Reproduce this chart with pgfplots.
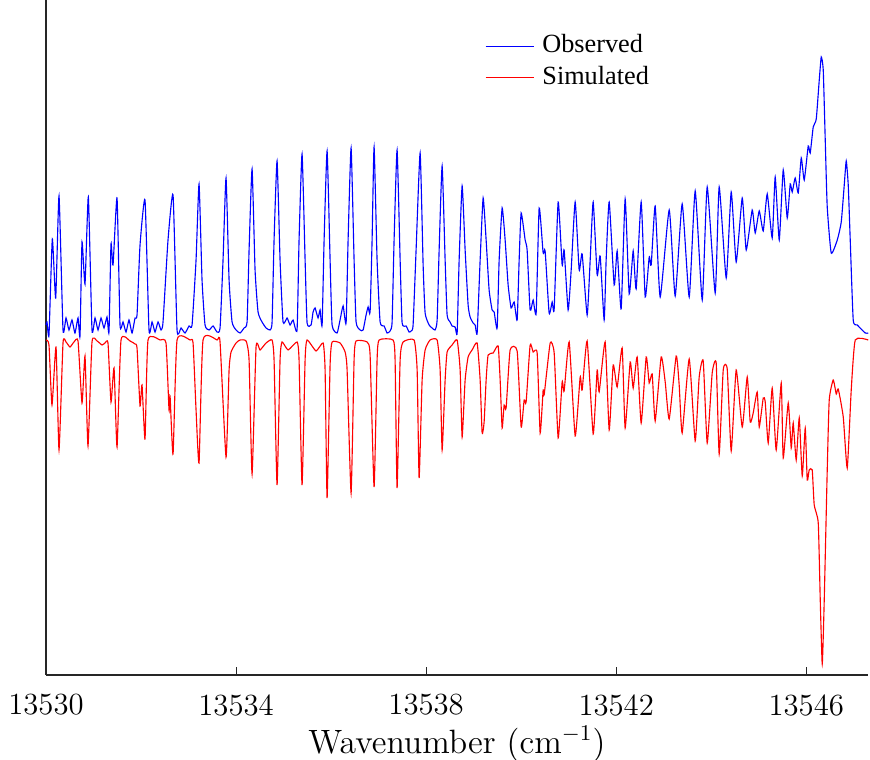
\documentclass[border=0pt]{standalone}
\usepackage{fontspec}
\usepackage{pgfplots}
\pgfplotsset{compat=1.18}
\newfontfamily\legfont{Liberation Serif}

\begin{document}
\begin{tikzpicture}
    % picture frame, 870 x 760 px at 0.4pt per px
    \useasboundingbox (-18.4pt,-34pt) rectangle (329.6pt,270pt);
    \begin{axis}[
        at={(0pt,0pt)},
        anchor=south west,
        scale only axis,
        width=328.8pt,
        height=270pt,
        xmin=13530, xmax=13547.3,
        ymin=-340, ymax=335,
        axis x line=bottom,
        axis y line=left,
        axis line style={-, black!85, line width=0.5pt},
        xtick={13530,13534,13538,13542,13546},
        xticklabels={13530,13534,13538,13542,13546},
        scaled x ticks=false,
        ytick=\empty,
        tick align=inside,
        major tick length=3.2pt,
        tick style={black!85, line width=0.4pt},
        /pgf/number format/assume math mode=true,
        xticklabel style={font=\fontsize{12.3}{14}\selectfont, yshift=-4.2pt},
        xlabel={Wavenumber (cm$^{-1}$)},
        xlabel style={font=\fontsize{13.5}{15}\selectfont, yshift=2.6pt},
        legend style={
            at={(0.5335,0.9556)}, anchor=north west,
            draw=none, fill=none,
            font=\legfont\fontsize{10.5}{12}\selectfont,
            inner sep=0pt,
            nodes={inner sep=1pt, text height=8pt, text depth=2.5pt},
            /tikz/every even column/.append style={column sep=0pt},
            /tikz/every odd column/.append style={column sep=2pt},
        },
        legend cell align=left,
        legend image code/.code={\draw[#1] (0pt,0pt) -- (19.5pt,0pt);},
        clip=false
    ]
        \addplot[blue, line width=0.45pt, smooth, tension=0.3] coordinates {
            (13530.000,10)(13530.021,13)(13530.063,0)(13530.133,96)(13530.204,37)(13530.274,139)
            (13530.358,5)(13530.421,17)(13530.484,5)(13530.547,15)(13530.610,2)(13530.674,17)
            (13530.716,-1)(13530.758,93)(13530.821,51)(13530.891,138)(13530.968,5)(13531.032,17)
            (13531.095,5)(13531.158,17)(13531.221,7)(13531.284,18)(13531.326,3)(13531.368,91)
            (13531.411,70)(13531.495,137)(13531.558,10)(13531.621,13)(13531.684,3)(13531.747,15)
            (13531.811,2)(13531.874,17)(13531.916,20)(13531.979,90)(13532.084,135)(13532.168,5)
            (13532.232,13)(13532.295,3)(13532.358,13)(13532.421,5)(13532.463,13)(13532.568,95)
            (13532.674,140)(13532.758,5)(13532.842,7)(13532.926,2)(13533.011,9)(13533.074,10)
            (13533.158,75)(13533.221,151)(13533.284,55)(13533.347,10)(13533.432,5)(13533.516,9)
            (13533.600,3)(13533.663,7)(13533.726,75)(13533.789,157)(13533.853,55)(13533.916,13)
            (13534.000,5)(13534.084,2)(13534.168,7)(13534.232,13)(13534.274,85)(13534.337,166)
            (13534.400,65)(13534.463,23)(13534.547,13)(13534.632,7)(13534.716,5)(13534.758,13)
            (13534.800,95)(13534.863,174)(13534.926,75)(13534.989,13)(13535.074,17)(13535.137,10)
            (13535.200,15)(13535.284,5)(13535.326,95)(13535.389,181)(13535.453,75)(13535.495,12)
            (13535.579,10)(13535.621,23)(13535.663,27)(13535.726,17)(13535.768,25)(13535.811,10)
            (13535.853,95)(13535.916,184)(13535.979,75)(13536.021,10)(13536.126,2)(13536.189,15)
            (13536.253,29)(13536.316,12)(13536.358,95)(13536.421,187)(13536.484,75)(13536.526,13)
            (13536.611,5)(13536.674,5)(13536.737,20)(13536.779,28)(13536.821,23)(13536.863,95)
            (13536.905,188)(13536.968,75)(13537.032,13)(13537.116,9)(13537.179,2)(13537.242,4)
            (13537.284,13)(13537.326,95)(13537.389,185)(13537.453,75)(13537.495,12)(13537.579,9)
            (13537.642,3)(13537.684,4)(13537.726,10)(13537.789,85)(13537.874,182)(13537.937,70)
            (13537.979,22)(13538.063,10)(13538.126,7)(13538.189,5)(13538.232,15)(13538.274,85)
            (13538.337,169)(13538.400,75)(13538.442,20)(13538.505,13)(13538.547,9)(13538.611,8)
            (13538.653,2)(13538.695,75)(13538.758,149)(13538.821,85)(13538.884,30)(13538.926,18)
            (13538.989,12)(13539.032,10)(13539.074,2)(13539.137,75)(13539.200,137)(13539.263,95)
            (13539.326,45)(13539.389,25)(13539.432,23)(13539.495,7)(13539.537,75)(13539.600,127)
            (13539.663,95)(13539.726,50)(13539.789,27)(13539.853,33)(13539.916,15)(13539.958,75)
            (13540.000,122)(13540.084,95)(13540.126,85)(13540.189,25)(13540.253,35)(13540.316,22)
            (13540.379,127)(13540.463,82)(13540.505,84)(13540.589,22)(13540.653,33)(13540.695,26)
            (13540.779,133)(13540.863,70)(13540.905,85)(13540.989,25)(13541.053,65)(13541.137,133)
            (13541.221,65)(13541.284,81)(13541.389,20)(13541.453,75)(13541.516,133)(13541.600,60)
            (13541.663,79)(13541.747,15)(13541.789,75)(13541.853,133)(13541.958,50)(13542.021,84)
            (13542.105,26)(13542.189,136)(13542.274,41)(13542.358,84)(13542.421,46)(13542.526,133)
            (13542.611,38)(13542.695,78)(13542.737,70)(13542.821,129)(13542.926,38)(13543.116,125)
            (13543.242,39)(13543.389,131)(13543.537,38)(13543.663,144)(13543.811,35)(13543.916,148)
            (13544.084,42)(13544.168,148)(13544.316,57)(13544.421,143)(13544.526,73)(13544.653,137)
            (13544.737,85)(13544.863,125)(13544.926,102)(13545.011,124)(13545.095,104)(13545.179,141)
            (13545.284,97)(13545.347,158)(13545.432,95)(13545.516,165)(13545.600,117)(13545.663,151)
            (13545.705,143)(13545.768,157)(13545.832,142)(13545.895,177)(13545.958,155)(13546.042,189)
            (13546.084,182)(13546.147,208)(13546.211,216)(13546.274,255)(13546.316,278)(13546.358,265)
            (13546.400,195)(13546.442,128)(13546.526,82)(13546.653,95)(13546.737,113)(13546.800,150)
            (13546.842,174)(13546.884,150)(13546.926,95)(13546.989,15)(13547.074,10)(13547.242,2)
            (13547.305,2)
        };
        \addlegendentry{Observed}

        \addplot[red, line width=0.45pt, smooth, tension=0.3] coordinates {
            (13530.000,-5)(13530.063,-10)(13530.126,-70)(13530.211,-12)(13530.274,-115)(13530.358,-8)
            (13530.421,-7)(13530.505,-12)(13530.589,-7)(13530.674,-6)(13530.758,-68)(13530.821,-21)
            (13530.884,-111)(13530.968,-7)(13531.074,-6)(13531.179,-10)(13531.242,-8)(13531.305,-8)
            (13531.368,-67)(13531.432,-33)(13531.495,-112)(13531.579,-5)(13531.768,-6)(13531.874,-9)
            (13531.916,-13)(13531.979,-71)(13532.021,-50)(13532.084,-104)(13532.147,-5)(13532.400,-5)
            (13532.526,-8)(13532.589,-75)(13532.611,-61)(13532.674,-119)(13532.758,-5)(13533.032,-5)
            (13533.095,-8)(13533.158,-75)(13533.221,-128)(13533.305,-5)(13533.600,-5)(13533.663,-7)
            (13533.789,-122)(13533.853,-35)(13533.895,-17)(13534.000,-8)(13534.084,-5)(13534.211,-6)
            (13534.274,-25)(13534.337,-139)(13534.421,-12)(13534.505,-15)(13534.632,-8)(13534.758,-5)
            (13534.800,-25)(13534.863,-150)(13534.926,-25)(13534.968,-7)(13535.095,-15)(13535.284,-7)
            (13535.326,-25)(13535.389,-150)(13535.453,-25)(13535.495,-5)(13535.684,-16)(13535.832,-8)
            (13535.874,-35)(13535.916,-163)(13535.979,-30)(13536.021,-7)(13536.189,-8)(13536.295,-17)
            (13536.337,-35)(13536.421,-158)(13536.484,-25)(13536.526,-6)(13536.758,-7)(13536.821,-20)
            (13536.905,-152)(13536.968,-25)(13537.011,-5)(13537.305,-5)(13537.347,-25)(13537.389,-153)
            (13537.453,-25)(13537.516,-7)(13537.747,-5)(13537.811,-35)(13537.853,-143)(13537.916,-45)
            (13537.979,-15)(13538.084,-5)(13538.232,-5)(13538.295,-35)(13538.337,-115)(13538.400,-45)
            (13538.442,-17)(13538.547,-10)(13538.653,-5)(13538.716,-35)(13538.758,-102)(13538.821,-45)
            (13538.884,-22)(13538.968,-15)(13539.074,-8)(13539.137,-45)(13539.179,-98)(13539.221,-87)
            (13539.263,-45)(13539.305,-20)(13539.411,-18)(13539.516,-11)(13539.558,-45)(13539.600,-93)
            (13539.642,-70)(13539.684,-73)(13539.768,-15)(13539.916,-16)(13540.000,-92)(13540.063,-65)
            (13540.105,-67)(13540.189,-10)(13540.253,-17)(13540.337,-18)(13540.400,-98)(13540.463,-55)
            (13540.484,-60)(13540.611,-8)(13540.695,-18)(13540.779,-103)(13540.863,-47)(13540.905,-56)
            (13541.011,-7)(13541.137,-101)(13541.242,-42)(13541.284,-55)(13541.389,-6)(13541.516,-99)
            (13541.600,-35)(13541.642,-57)(13541.768,-7)(13541.853,-95)(13541.937,-30)(13542.021,-52)
            (13542.126,-13)(13542.189,-93)(13542.295,-27)(13542.358,-53)(13542.442,-22)(13542.526,-88)
            (13542.632,-22)(13542.695,-48)(13542.758,-39)(13542.821,-86)(13542.947,-22)(13543.032,-47)
            (13543.116,-84)(13543.263,-21)(13543.326,-50)(13543.389,-98)(13543.537,-24)(13543.663,-106)
            (13543.747,-42)(13543.832,-26)(13543.916,-108)(13544.021,-38)(13544.105,-28)(13544.168,-119)
            (13544.253,-35)(13544.337,-34)(13544.421,-116)(13544.526,-35)(13544.653,-92)(13544.758,-42)
            (13544.821,-87)(13544.884,-78)(13544.968,-57)(13545.011,-92)(13545.095,-63)(13545.137,-67)
            (13545.200,-108)(13545.284,-53)(13545.368,-115)(13545.474,-48)(13545.516,-123)(13545.621,-68)
            (13545.684,-113)(13545.726,-88)(13545.789,-125)(13545.853,-83)(13545.916,-141)(13545.979,-93)
            (13546.021,-145)(13546.063,-135)(13546.126,-135)(13546.168,-170)(13546.253,-188)(13546.295,-265)
            (13546.337,-329)(13546.379,-265)(13546.442,-135)(13546.484,-65)(13546.568,-45)(13546.632,-59)
            (13546.674,-54)(13546.779,-82)(13546.863,-133)(13546.947,-55)(13547.032,-5)(13547.305,-5)
        };
        \addlegendentry{Simulated}

        \draw[black!45, line width=0.4pt] (rel axis cs:0,1) -- (rel axis cs:1,1);
    \end{axis}
\end{tikzpicture}
\end{document}
